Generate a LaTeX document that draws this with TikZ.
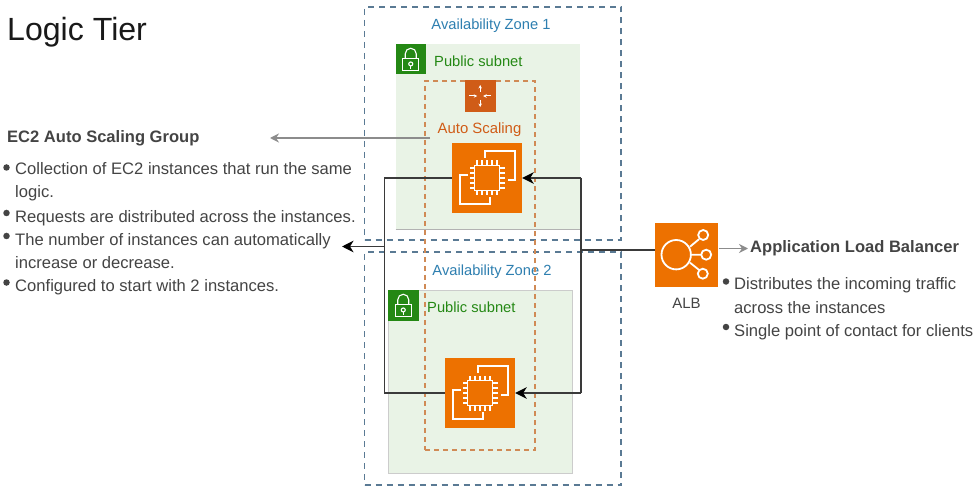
\documentclass[tikz,border=0pt]{standalone}
\usepackage{fontspec}
\setmainfont{Liberation Sans}
\usetikzlibrary{arrows.meta}
\definecolor{txt}{HTML}{444444}
\definecolor{subfill}{HTML}{E9F3E6}
\definecolor{grn}{HTML}{248814}
\definecolor{azblue}{HTML}{2E7FB0}
\definecolor{zoneline}{HTML}{5A7A94}
\definecolor{ecorange}{HTML}{ED7100}
\definecolor{asorange}{HTML}{D05C17}
\definecolor{asgline}{HTML}{D08A55}
\definecolor{conn}{HTML}{3A3A3A}
\definecolor{greyline}{HTML}{8C8C8C}
\tikzset{
  x=1pt,y=-1pt,
  zonebox/.style={draw=zoneline,dash pattern=on 6pt off 5pt,line width=1.2pt,anchor=north west,inner sep=0pt,outer sep=0pt,rectangle},
  subnetbox/.style={fill=subfill,anchor=north west,inner sep=0pt,outer sep=0pt,rectangle},
  lockbox/.style={fill=grn,anchor=north west,inner sep=0pt,outer sep=0pt,minimum width=30.5pt,minimum height=30.5pt},
  iconbox/.style={fill=ecorange,inner sep=0pt,minimum width=70pt,minimum height=70pt},
  plain/.style={inner sep=0pt,font=\fontsize{16.6}{16.6}\selectfont,text=txt,anchor=base west},
  heading/.style={inner sep=0pt,font=\bfseries\fontsize{16.55}{16.55}\selectfont,text=txt,anchor=base west},
  lbl/.style={inner sep=0pt,font=\fontsize{14.7}{14.7}\selectfont},
  bulletdot/.style={circle,fill=#1,inner sep=0pt,minimum size=6.5pt},
  link/.style={draw=conn,line width=1.9pt},
  linkhead/.style={link,-{Stealth[length=11.5pt,width=11.5pt,inset=3.5pt,color=black]}},
  greyhead/.style={draw=greyline,line width=1.6pt,-{Stealth[length=9pt,width=9pt]}},
  icline/.style={draw=white,line width=1.8pt},
  asarrow/.style={draw=white,line width=1pt,-{Stealth[length=3.5pt,width=3.5pt]}},
  lockline/.style={draw=white,line width=1.1pt},
  pics/ecchip/.style={code={
    \draw[icline] (-2.3,-20) -- (-2.3,-26.7) -- (27.7,-26.7) -- (27.7,2.3) -- (21,2.3);
    \draw[icline] (-19,-3) -- (-26.7,-3) -- (-26.7,26.3) -- (2.7,26.3) -- (2.7,19);
    \draw[icline] (-12.5,-12.5) rectangle (12.5,12.5);
    \foreach \t in {-10,-5,0,5,10}{
      \draw[icline] (\t,-12.5) -- (\t,-17.5) (\t,12.5) -- (\t,17.5) (-12.5,\t) -- (-17.5,\t) (12.5,\t) -- (17.5,\t);
    }
  }},
  pics/padlock/.style={code={
    \draw[lockline] (-8,-1) rectangle (8,11.5);
    \draw[lockline] (-5.5,-1) -- (-5.5,-5.5) arc[start angle=180,end angle=360,radius=5.5] -- (5.5,-1);
    \draw[lockline] (0,4.7) circle (2);
    \draw[lockline] (0,6.7) -- (0,9.5);
  }}
}
\begin{document}
\begin{tikzpicture}
\useasboundingbox (0,0) rectangle (980,489);
\fill[white] (0,0) rectangle (980,489);

% zones
\node[zonebox,minimum width=256.5pt,minimum height=233pt] (zone1) at (364.5,7) {};
\node[zonebox,minimum width=256.5pt,minimum height=233pt] (zone2) at (364.5,252) {};
\node[lbl,text=azblue,anchor=base] (zone1t) at (491,29.5) {Availability Zone 1};
\node[lbl,text=azblue,anchor=base] (zone2t) at (492,275) {Availability Zone 2};

% subnets
\node[subnetbox,minimum width=184.5pt,minimum height=185pt] (sub1) at (395.5,44) {};
\draw[draw=black!30,line width=.8pt] (sub1.south west) -- (sub1.south east);
\node[subnetbox,draw=black!20,line width=.8pt,minimum width=184.5pt,minimum height=183pt] (sub2) at (388,290) {};
\node[lockbox] (lock1) at (395.5,44) {};
\node[lockbox] (lock2) at (388,290) {};
\pic at (lock1.center) {padlock};
\pic at (lock2.center) {padlock};
\node[lbl,text=grn,anchor=base west] (sub1t) at (434,66.5) {Public subnet};
\node[lbl,text=grn,anchor=base west] (sub2t) at (427,312.5) {Public subnet};

% auto scaling group
\node[draw=asgline,dash pattern=on 5pt off 4pt,line width=1.3pt,anchor=north west,inner sep=0pt,outer sep=0pt,minimum width=110pt,minimum height=369pt] (asg) at (425,81) {};
\node[fill=asorange,inner sep=0pt,minimum width=31pt,minimum height=31.4pt] (asicon) at (480.2,96) {};
\begin{scope}[shift={(asicon.center)}]
  \draw[asarrow] (-11,0) -- (-3,0);
  \draw[asarrow] (11,0) -- (3,0);
  \draw[asarrow] (0,-4) -- (0,-11);
  \draw[asarrow] (0,4) -- (0,11);
\end{scope}
\node[lbl,text=asorange,font=\fontsize{14.9}{14.9}\selectfont,anchor=base] (ast) at (479.5,134) {Auto Scaling};

% instances
\node[iconbox] (ec1) at (487,178) {};
\node[iconbox] (ec2) at (480,393) {};
\pic at (ec1.center) {ecchip};
\pic at (ec2.center) {ecchip};

% ALB
\node[fill=ecorange,inner sep=0pt,minimum width=63.6pt,minimum height=64pt] (alb) at (686.5,254.7) {};
\begin{scope}[shift={(alb.center)}]
  \draw[icline] (-10.3,0) circle (14.7);
  \draw[icline] (3.5,-8) -- (12.5,-15.5) (4.4,0) -- (14.7,0) (3.5,8) -- (12.3,15);
  \draw[icline] (16.7,-19.7) circle (5) (19.7,0) circle (5) (16.3,19) circle (5);
\end{scope}
\node[lbl,font=\fontsize{15}{15}\selectfont,text=txt,anchor=base] (albt) at (686.5,308) {ALB};

% connectors
\coordinate (leftT) at (384.5,178);
\coordinate (leftB) at (384.5,393);
\coordinate (leftM) at (384.5,246.5);
\coordinate (leftEnd) at (342,246.5);
\coordinate (rightT) at (581,178);
\coordinate (rightB) at (581,393);
\coordinate (rightM) at (581,249.7);
\draw[link] (ec1.west) -- (leftT) -- (leftB) -- (ec2.west);
\draw[linkhead] (leftM) -- (leftEnd);
\draw[link] (alb.west |- rightM) -- (rightM);
\draw[linkhead] (rightT) -- (ec1.east);
\draw[linkhead] (rightB) -- (ec2.east);
\draw[link] (rightT) -- (rightB);

% grey pointers
\coordinate (gptL) at (430,138);
\coordinate (gptE) at (270,138);
\draw[greyhead] (gptL) -- (gptE);
\coordinate (gptA) at (748,248.5);
\draw[greyhead] (alb.east |- gptA) -- (gptA);

% texts
\node[inner sep=0pt,font=\fontsize{32.1}{32.1}\selectfont,text=black!90,anchor=base west] (title) at (7,41) {Logic Tier};
\node[heading] (asgh) at (7,143) {EC2 Auto Scaling Group};
\node[plain] (l1) at (15,175) {Collection of EC2 instances that run the same};
\node[plain] (l2) at (15,198) {logic.};
\node[plain] (l3) at (15,222.5) {Requests are distributed across the instances.};
\node[plain] (l4) at (15,245.5) {The number of instances can automatically};
\node[plain] (l5) at (15,268.5) {increase or decrease.};
\node[plain] (l6) at (15,291) {Configured to start with 2 instances.};
\node[bulletdot=txt] (b1) at (6.5,167.5) {};
\node[bulletdot=txt] (b2) at (6.5,213) {};
\node[bulletdot=txt] (b3) at (6.5,236) {};
\node[bulletdot=txt] (b4) at (6.5,282.5) {};
\node[heading] (albh) at (750,252) {Application Load Balancer};
\node[plain] (r1) at (734,289) {Distributes the incoming traffic};
\node[plain] (r2) at (734,313) {across the instances};
\node[plain] (r3) at (734,336) {Single point of contact for clients};
\node[bulletdot=txt] (b5) at (726,281.5) {};
\node[bulletdot=txt] (b6) at (726,327) {};
\end{tikzpicture}
\end{document}
